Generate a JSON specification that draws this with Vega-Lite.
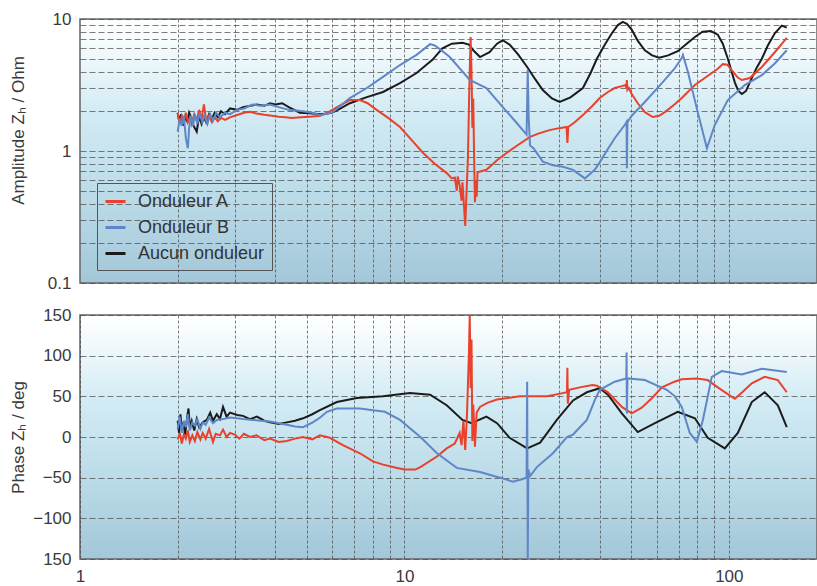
{
  "$schema": "https://vega.github.io/schema/vega-lite/v6.json",
  "autosize": {"type": "pad"},
  "padding": {"left": 8, "top": 9, "right": 0, "bottom": 0},
  "background": "white",
  "spacing": 13,
  "config": {
    "font": "Liberation Sans",
    "view": {
      "stroke": "#666666",
      "strokeWidth": 1.5,
      "fill": {
        "gradient": "linear", "x1": 0, "y1": 0, "x2": 0, "y2": 1,
        "stops": [
          {"offset": 0, "color": "#ffffff"},
          {"offset": 0.12, "color": "#f1f9fc"},
          {"offset": 0.35, "color": "#d3ebf4"},
          {"offset": 0.6, "color": "#c0dfeb"},
          {"offset": 1, "color": "#a3c7d9"}
        ]
      }
    },
    "axis": {
      "labelFont": "Liberation Sans",
      "labelFontSize": 17,
      "labelColor": "#3a3a3a",
      "titleFont": "Liberation Sans",
      "titleFontSize": 17,
      "titleFontWeight": "normal",
      "titleColor": "#3a3a3a",
      "gridColor": "#4a4a4a",
      "gridWidth": 0.8,
      "gridOpacity": 0.9,
      "domain": false,
      "ticks": false,
      "labelOverlap": false,
      "labelFlush": false
    },
    "legend": {
      "labelFont": "Liberation Sans",
      "labelFontSize": 18,
      "labelColor": "#333333"
    }
  },
  "resolve": {"legend": {"color": "independent"}},
  "vconcat": [
    {
      "width": 737,
      "height": 264,
      "data": {"name": "amp"},
      "mark": {"type": "line", "strokeWidth": 2, "clip": true},
      "encoding": {
        "x": {
          "field": "f", "type": "quantitative",
          "scale": {"type": "log", "domain": [1, 187], "nice": false},
          "axis": {"values": [2,3,4,5,6,7,8,9,10,20,30,40,50,60,70,80,90,100], "labels": false, "grid": true, "gridDash": [3,2], "title": null}
        },
        "y": {
          "field": "v", "type": "quantitative",
          "scale": {"type": "log", "domain": [0.1, 10], "nice": false},
          "axis": {
            "values": [0.1,0.2,0.3,0.4,0.5,0.6,0.7,0.8,0.9,1,2,3,4,5,6,7,8,9,10],
            "labelExpr": "datum.value == 0.1 ? '0.1' : datum.value == 1 ? '1' : datum.value == 10 ? '10' : ''",
            "labelPadding": 9,
            "gridDash": [6,3],
            "title": "Amplitude Zₕ / Ohm",
            "titleX": -53,
            "titleY": 111,
            "titleBaseline": "bottom"
          }
        },
        "color": {
          "field": "s", "type": "nominal",
          "scale": {"domain": ["Onduleur A", "Onduleur B", "Aucun onduleur"], "range": ["#e8412c", "#5f86c6", "#1b1b1b"]},
          "legend": {
            "title": null, "orient": "none", "legendX": 17, "legendY": 164,
            "symbolType": "stroke", "symbolSize": 400, "symbolStrokeWidth": 3,
            "strokeColor": "#555555", "padding": 7, "rowPadding": 5, "labelOffset": 11
          }
        }
      }
    },
    {
      "width": 737,
      "height": 244,
      "data": {"name": "phase"},
      "mark": {"type": "line", "strokeWidth": 2, "clip": true},
      "encoding": {
        "x": {
          "field": "f", "type": "quantitative",
          "scale": {"type": "log", "domain": [1, 187], "nice": false},
          "axis": {
            "values": [1,2,3,4,5,6,7,8,9,10,20,30,40,50,60,70,80,90,100],
            "labelExpr": "datum.value == 1 ? '1' : datum.value == 10 ? '10' : datum.value == 100 ? '100' : ''",
            "labelPadding": 9,
            "grid": true, "gridDash": [3,2], "title": null
          }
        },
        "y": {
          "field": "v", "type": "quantitative",
          "scale": {"domain": [-150, 150], "nice": false},
          "axis": {
            "values": [-150,-100,-50,0,50,100,150],
            "labelExpr": "datum.value == -150 ? '150' : datum.label",
            "labelPadding": 9,
            "gridDash": [6,3],
            "title": "Phase Zₕ / deg",
            "titleX": -53,
            "titleY": 122,
            "titleBaseline": "bottom"
          }
        },
        "color": {
          "field": "s", "type": "nominal",
          "scale": {"domain": ["Onduleur A", "Onduleur B", "Aucun onduleur"], "range": ["#e8412c", "#5f86c6", "#1b1b1b"]},
          "legend": null
        }
      }
    }
  ],
  "datasets": {
    "amp": [
      {"s":"Aucun onduleur","f":2.00,"v":1.95},{"s":"Aucun onduleur","f":2.02,"v":1.70},{"s":"Aucun onduleur","f":2.05,"v":1.90},{"s":"Aucun onduleur","f":2.08,"v":1.55},{"s":"Aucun onduleur","f":2.11,"v":1.85},{"s":"Aucun onduleur","f":2.14,"v":1.65},{"s":"Aucun onduleur","f":2.17,"v":1.95},{"s":"Aucun onduleur","f":2.20,"v":1.80},{"s":"Aucun onduleur","f":2.24,"v":1.55},{"s":"Aucun onduleur","f":2.29,"v":1.40},{"s":"Aucun onduleur","f":2.33,"v":1.85},{"s":"Aucun onduleur","f":2.37,"v":1.60},{"s":"Aucun onduleur","f":2.41,"v":1.80},{"s":"Aucun onduleur","f":2.45,"v":1.65},{"s":"Aucun onduleur","f":2.50,"v":1.90},{"s":"Aucun onduleur","f":2.55,"v":1.75},{"s":"Aucun onduleur","f":2.60,"v":1.95},{"s":"Aucun onduleur","f":2.66,"v":1.80},{"s":"Aucun onduleur","f":2.72,"v":2.00},{"s":"Aucun onduleur","f":2.80,"v":1.90},{"s":"Aucun onduleur","f":2.90,"v":2.10},{"s":"Aucun onduleur","f":3.05,"v":2.05},{"s":"Aucun onduleur","f":3.18,"v":2.15},{"s":"Aucun onduleur","f":3.35,"v":2.20},{"s":"Aucun onduleur","f":3.50,"v":2.25},{"s":"Aucun onduleur","f":3.70,"v":2.20},{"s":"Aucun onduleur","f":3.85,"v":2.30},{"s":"Aucun onduleur","f":4.00,"v":2.25},{"s":"Aucun onduleur","f":4.20,"v":2.30},{"s":"Aucun onduleur","f":4.40,"v":2.15},{"s":"Aucun onduleur","f":4.76,"v":1.95},{"s":"Aucun onduleur","f":5.11,"v":1.93},{"s":"Aucun onduleur","f":5.50,"v":1.90},{"s":"Aucun onduleur","f":5.80,"v":1.92},{"s":"Aucun onduleur","f":6.02,"v":1.96},{"s":"Aucun onduleur","f":6.40,"v":2.12},{"s":"Aucun onduleur","f":6.79,"v":2.30},{"s":"Aucun onduleur","f":7.66,"v":2.56},{"s":"Aucun onduleur","f":8.59,"v":2.80},{"s":"Aucun onduleur","f":9.69,"v":3.27},{"s":"Aucun onduleur","f":10.9,"v":3.9},{"s":"Aucun onduleur","f":12.2,"v":4.9},{"s":"Aucun onduleur","f":13.1,"v":6.0},{"s":"Aucun onduleur","f":14.0,"v":6.5},{"s":"Aucun onduleur","f":15.1,"v":6.6},{"s":"Aucun onduleur","f":15.8,"v":6.4},{"s":"Aucun onduleur","f":16.3,"v":5.8},{"s":"Aucun onduleur","f":17.1,"v":5.15},{"s":"Aucun onduleur","f":18.3,"v":5.6},{"s":"Aucun onduleur","f":19.3,"v":6.5},{"s":"Aucun onduleur","f":20.1,"v":6.9},{"s":"Aucun onduleur","f":21.1,"v":6.4},{"s":"Aucun onduleur","f":22.4,"v":5.4},{"s":"Aucun onduleur","f":23.9,"v":4.33},{"s":"Aucun onduleur","f":25.3,"v":3.5},{"s":"Aucun onduleur","f":26.7,"v":2.9},{"s":"Aucun onduleur","f":28.5,"v":2.5},{"s":"Aucun onduleur","f":30.1,"v":2.35},{"s":"Aucun onduleur","f":32.5,"v":2.55},{"s":"Aucun onduleur","f":35.5,"v":3.0},{"s":"Aucun onduleur","f":37.5,"v":3.9},{"s":"Aucun onduleur","f":39.2,"v":5.0},{"s":"Aucun onduleur","f":41.5,"v":6.4},{"s":"Aucun onduleur","f":43.6,"v":7.8},{"s":"Aucun onduleur","f":45.5,"v":9.0},{"s":"Aucun onduleur","f":47.1,"v":9.5},{"s":"Aucun onduleur","f":48.5,"v":9.2},{"s":"Aucun onduleur","f":50.2,"v":8.3},{"s":"Aucun onduleur","f":52.5,"v":6.8},{"s":"Aucun onduleur","f":55.1,"v":5.8},{"s":"Aucun onduleur","f":58.0,"v":5.3},{"s":"Aucun onduleur","f":61.0,"v":5.1},{"s":"Aucun onduleur","f":65.0,"v":5.3},{"s":"Aucun onduleur","f":69.6,"v":5.7},{"s":"Aucun onduleur","f":74.8,"v":6.6},{"s":"Aucun onduleur","f":78.6,"v":7.3},{"s":"Aucun onduleur","f":83.0,"v":8.0},{"s":"Aucun onduleur","f":88.0,"v":8.1},{"s":"Aucun onduleur","f":92.5,"v":7.6},{"s":"Aucun onduleur","f":95.8,"v":6.5},{"s":"Aucun onduleur","f":99.3,"v":5.0},{"s":"Aucun onduleur","f":102,"v":4.0},{"s":"Aucun onduleur","f":104.4,"v":3.3},{"s":"Aucun onduleur","f":107,"v":2.85},{"s":"Aucun onduleur","f":109.7,"v":2.7},{"s":"Aucun onduleur","f":113,"v":2.85},{"s":"Aucun onduleur","f":117.7,"v":3.57},{"s":"Aucun onduleur","f":122,"v":4.3},{"s":"Aucun onduleur","f":126.4,"v":5.0},{"s":"Aucun onduleur","f":131.9,"v":6.3},{"s":"Aucun onduleur","f":138.6,"v":7.8},{"s":"Aucun onduleur","f":145.6,"v":8.9},{"s":"Aucun onduleur","f":150.9,"v":8.6},

      {"s":"Onduleur A","f":2.00,"v":1.95},{"s":"Onduleur A","f":2.03,"v":1.60},{"s":"Onduleur A","f":2.06,"v":1.85},{"s":"Onduleur A","f":2.09,"v":1.70},{"s":"Onduleur A","f":2.12,"v":1.95},{"s":"Onduleur A","f":2.15,"v":1.65},{"s":"Onduleur A","f":2.18,"v":1.80},{"s":"Onduleur A","f":2.21,"v":1.60},{"s":"Onduleur A","f":2.25,"v":1.90},{"s":"Onduleur A","f":2.29,"v":1.70},{"s":"Onduleur A","f":2.33,"v":2.05},{"s":"Onduleur A","f":2.37,"v":1.75},{"s":"Onduleur A","f":2.41,"v":2.25},{"s":"Onduleur A","f":2.45,"v":1.70},{"s":"Onduleur A","f":2.50,"v":1.85},{"s":"Onduleur A","f":2.55,"v":1.65},{"s":"Onduleur A","f":2.60,"v":1.80},{"s":"Onduleur A","f":2.66,"v":1.68},{"s":"Onduleur A","f":2.72,"v":1.78},{"s":"Onduleur A","f":2.80,"v":1.72},{"s":"Onduleur A","f":2.90,"v":1.80},{"s":"Onduleur A","f":3.00,"v":1.85},{"s":"Onduleur A","f":3.10,"v":1.90},{"s":"Onduleur A","f":3.20,"v":1.95},{"s":"Onduleur A","f":3.35,"v":1.98},{"s":"Onduleur A","f":3.50,"v":1.92},{"s":"Onduleur A","f":3.70,"v":1.88},{"s":"Onduleur A","f":3.90,"v":1.85},{"s":"Onduleur A","f":4.10,"v":1.82},{"s":"Onduleur A","f":4.30,"v":1.80},{"s":"Onduleur A","f":4.50,"v":1.78},{"s":"Onduleur A","f":4.80,"v":1.80},{"s":"Onduleur A","f":5.10,"v":1.82},{"s":"Onduleur A","f":5.50,"v":1.85},{"s":"Onduleur A","f":5.80,"v":1.95},{"s":"Onduleur A","f":6.20,"v":2.15},{"s":"Onduleur A","f":6.79,"v":2.43},{"s":"Onduleur A","f":7.29,"v":2.43},{"s":"Onduleur A","f":7.70,"v":2.30},{"s":"Onduleur A","f":8.23,"v":2.04},{"s":"Onduleur A","f":9.0,"v":1.75},{"s":"Onduleur A","f":9.69,"v":1.52},{"s":"Onduleur A","f":10.5,"v":1.22},{"s":"Onduleur A","f":11.4,"v":0.97},{"s":"Onduleur A","f":12.4,"v":0.8},{"s":"Onduleur A","f":13.5,"v":0.68},{"s":"Onduleur A","f":14.0,"v":0.62},{"s":"Onduleur A","f":14.3,"v":0.63},{"s":"Onduleur A","f":14.5,"v":0.5},{"s":"Onduleur A","f":14.6,"v":0.64},{"s":"Onduleur A","f":14.8,"v":0.55},{"s":"Onduleur A","f":15.0,"v":0.42},{"s":"Onduleur A","f":15.1,"v":0.58},{"s":"Onduleur A","f":15.3,"v":0.35},{"s":"Onduleur A","f":15.4,"v":0.27},{"s":"Onduleur A","f":15.55,"v":0.5},{"s":"Onduleur A","f":15.7,"v":0.9},{"s":"Onduleur A","f":15.85,"v":3.0},{"s":"Onduleur A","f":16.0,"v":7.3},{"s":"Onduleur A","f":16.1,"v":4.0},{"s":"Onduleur A","f":16.2,"v":1.5},{"s":"Onduleur A","f":16.3,"v":2.5},{"s":"Onduleur A","f":16.4,"v":0.9},{"s":"Onduleur A","f":16.5,"v":0.41},{"s":"Onduleur A","f":16.6,"v":0.6},{"s":"Onduleur A","f":16.7,"v":0.45},{"s":"Onduleur A","f":16.8,"v":0.69},{"s":"Onduleur A","f":17.9,"v":0.72},{"s":"Onduleur A","f":19.3,"v":0.85},{"s":"Onduleur A","f":20.7,"v":0.97},{"s":"Onduleur A","f":22.5,"v":1.12},{"s":"Onduleur A","f":24.4,"v":1.28},{"s":"Onduleur A","f":26.0,"v":1.36},{"s":"Onduleur A","f":28.0,"v":1.44},{"s":"Onduleur A","f":30.0,"v":1.49},{"s":"Onduleur A","f":31.6,"v":1.52},{"s":"Onduleur A","f":31.8,"v":1.15},{"s":"Onduleur A","f":32.0,"v":1.52},{"s":"Onduleur A","f":33.5,"v":1.65},{"s":"Onduleur A","f":35.5,"v":1.87},{"s":"Onduleur A","f":38.0,"v":2.2},{"s":"Onduleur A","f":40.0,"v":2.52},{"s":"Onduleur A","f":42.4,"v":2.8},{"s":"Onduleur A","f":44.5,"v":3.0},{"s":"Onduleur A","f":46.8,"v":3.1},{"s":"Onduleur A","f":48.0,"v":3.16},{"s":"Onduleur A","f":48.3,"v":3.0},{"s":"Onduleur A","f":48.5,"v":3.45},{"s":"Onduleur A","f":48.7,"v":2.9},{"s":"Onduleur A","f":49.2,"v":3.0},{"s":"Onduleur A","f":50.2,"v":2.7},{"s":"Onduleur A","f":52.4,"v":2.3},{"s":"Onduleur A","f":55.1,"v":1.97},{"s":"Onduleur A","f":58.3,"v":1.81},{"s":"Onduleur A","f":61.0,"v":1.85},{"s":"Onduleur A","f":63.5,"v":1.97},{"s":"Onduleur A","f":68.0,"v":2.25},{"s":"Onduleur A","f":71.6,"v":2.52},{"s":"Onduleur A","f":78.6,"v":3.16},{"s":"Onduleur A","f":86.0,"v":3.7},{"s":"Onduleur A","f":92.5,"v":4.2},{"s":"Onduleur A","f":95.8,"v":4.55},{"s":"Onduleur A","f":99.0,"v":4.5},{"s":"Onduleur A","f":102.1,"v":4.1},{"s":"Onduleur A","f":106.6,"v":3.6},{"s":"Onduleur A","f":109.7,"v":3.45},{"s":"Onduleur A","f":116.1,"v":3.57},{"s":"Onduleur A","f":126.4,"v":4.33},{"s":"Onduleur A","f":138.6,"v":5.6},{"s":"Onduleur A","f":150.9,"v":7.2},

      {"s":"Onduleur B","f":2.00,"v":1.40},{"s":"Onduleur B","f":2.03,"v":1.75},{"s":"Onduleur B","f":2.06,"v":1.55},{"s":"Onduleur B","f":2.09,"v":1.85},{"s":"Onduleur B","f":2.12,"v":1.25},{"s":"Onduleur B","f":2.15,"v":1.05},{"s":"Onduleur B","f":2.17,"v":1.50},{"s":"Onduleur B","f":2.20,"v":1.85},{"s":"Onduleur B","f":2.23,"v":1.55},{"s":"Onduleur B","f":2.26,"v":1.90},{"s":"Onduleur B","f":2.30,"v":1.60},{"s":"Onduleur B","f":2.34,"v":1.95},{"s":"Onduleur B","f":2.38,"v":1.65},{"s":"Onduleur B","f":2.42,"v":1.85},{"s":"Onduleur B","f":2.47,"v":1.60},{"s":"Onduleur B","f":2.52,"v":1.90},{"s":"Onduleur B","f":2.57,"v":1.70},{"s":"Onduleur B","f":2.63,"v":1.95},{"s":"Onduleur B","f":2.70,"v":1.80},{"s":"Onduleur B","f":2.80,"v":1.95},{"s":"Onduleur B","f":2.90,"v":1.90},{"s":"Onduleur B","f":3.05,"v":2.05},{"s":"Onduleur B","f":3.20,"v":2.10},{"s":"Onduleur B","f":3.40,"v":2.25},{"s":"Onduleur B","f":3.60,"v":2.20},{"s":"Onduleur B","f":3.85,"v":2.25},{"s":"Onduleur B","f":4.10,"v":2.15},{"s":"Onduleur B","f":4.40,"v":2.05},{"s":"Onduleur B","f":4.87,"v":2.0},{"s":"Onduleur B","f":5.20,"v":1.95},{"s":"Onduleur B","f":5.50,"v":1.87},{"s":"Onduleur B","f":5.80,"v":1.92},{"s":"Onduleur B","f":6.02,"v":1.97},{"s":"Onduleur B","f":6.79,"v":2.52},{"s":"Onduleur B","f":7.66,"v":3.0},{"s":"Onduleur B","f":8.59,"v":3.64},{"s":"Onduleur B","f":9.69,"v":4.48},{"s":"Onduleur B","f":10.9,"v":5.35},{"s":"Onduleur B","f":12.0,"v":6.45},{"s":"Onduleur B","f":12.4,"v":6.3},{"s":"Onduleur B","f":13.0,"v":5.8},{"s":"Onduleur B","f":13.8,"v":5.15},{"s":"Onduleur B","f":15.9,"v":3.45},{"s":"Onduleur B","f":17.9,"v":3.0},{"s":"Onduleur B","f":20.1,"v":2.15},{"s":"Onduleur B","f":22.2,"v":1.63},{"s":"Onduleur B","f":23.8,"v":1.33},{"s":"Onduleur B","f":24.0,"v":4.1},{"s":"Onduleur B","f":24.15,"v":1.8},{"s":"Onduleur B","f":24.4,"v":1.1},{"s":"Onduleur B","f":25.0,"v":1.05},{"s":"Onduleur B","f":26.7,"v":0.83},{"s":"Onduleur B","f":28.7,"v":0.78},{"s":"Onduleur B","f":30.8,"v":0.76},{"s":"Onduleur B","f":33.1,"v":0.72},{"s":"Onduleur B","f":36.0,"v":0.62},{"s":"Onduleur B","f":38.6,"v":0.72},{"s":"Onduleur B","f":40.0,"v":0.82},{"s":"Onduleur B","f":42.0,"v":1.0},{"s":"Onduleur B","f":44.5,"v":1.25},{"s":"Onduleur B","f":48.0,"v":1.6},{"s":"Onduleur B","f":48.4,"v":1.66},{"s":"Onduleur B","f":48.5,"v":0.74},{"s":"Onduleur B","f":48.7,"v":1.65},{"s":"Onduleur B","f":50.2,"v":1.85},{"s":"Onduleur B","f":55.1,"v":2.35},{"s":"Onduleur B","f":62.2,"v":3.27},{"s":"Onduleur B","f":68.0,"v":4.2},{"s":"Onduleur B","f":71.6,"v":5.06},{"s":"Onduleur B","f":72.2,"v":5.35},{"s":"Onduleur B","f":74.8,"v":3.97},{"s":"Onduleur B","f":80.2,"v":1.97},{"s":"Onduleur B","f":85.6,"v":1.05},{"s":"Onduleur B","f":90.5,"v":1.57},{"s":"Onduleur B","f":99.3,"v":2.43},{"s":"Onduleur B","f":112,"v":3.16},{"s":"Onduleur B","f":126.4,"v":3.76},{"s":"Onduleur B","f":138.6,"v":4.6},{"s":"Onduleur B","f":150.9,"v":5.8}
    ],
    "phase": [
      {"s":"Aucun onduleur","f":2.00,"v":20},{"s":"Aucun onduleur","f":2.02,"v":5},{"s":"Aucun onduleur","f":2.04,"v":28},{"s":"Aucun onduleur","f":2.06,"v":9},{"s":"Aucun onduleur","f":2.08,"v":18},{"s":"Aucun onduleur","f":2.11,"v":3},{"s":"Aucun onduleur","f":2.14,"v":25},{"s":"Aucun onduleur","f":2.16,"v":35},{"s":"Aucun onduleur","f":2.18,"v":12},{"s":"Aucun onduleur","f":2.21,"v":20},{"s":"Aucun onduleur","f":2.25,"v":8},{"s":"Aucun onduleur","f":2.29,"v":22},{"s":"Aucun onduleur","f":2.33,"v":12},{"s":"Aucun onduleur","f":2.39,"v":18},{"s":"Aucun onduleur","f":2.46,"v":21},{"s":"Aucun onduleur","f":2.52,"v":30},{"s":"Aucun onduleur","f":2.57,"v":20},{"s":"Aucun onduleur","f":2.64,"v":28},{"s":"Aucun onduleur","f":2.70,"v":22},{"s":"Aucun onduleur","f":2.76,"v":37},{"s":"Aucun onduleur","f":2.83,"v":25},{"s":"Aucun onduleur","f":2.90,"v":30},{"s":"Aucun onduleur","f":3.05,"v":27},{"s":"Aucun onduleur","f":3.18,"v":26},{"s":"Aucun onduleur","f":3.34,"v":22},{"s":"Aucun onduleur","f":3.51,"v":25},{"s":"Aucun onduleur","f":3.70,"v":20},{"s":"Aucun onduleur","f":3.85,"v":18},{"s":"Aucun onduleur","f":4.10,"v":16},{"s":"Aucun onduleur","f":4.34,"v":18},{"s":"Aucun onduleur","f":4.60,"v":20},{"s":"Aucun onduleur","f":4.87,"v":23},{"s":"Aucun onduleur","f":5.20,"v":28},{"s":"Aucun onduleur","f":5.49,"v":33},{"s":"Aucun onduleur","f":6.19,"v":43},{"s":"Aucun onduleur","f":7.14,"v":48},{"s":"Aucun onduleur","f":8.59,"v":50},{"s":"Aucun onduleur","f":10.4,"v":54},{"s":"Aucun onduleur","f":12.0,"v":52},{"s":"Aucun onduleur","f":13.5,"v":39},{"s":"Aucun onduleur","f":15.1,"v":21},{"s":"Aucun onduleur","f":16.1,"v":17},{"s":"Aucun onduleur","f":17.9,"v":25},{"s":"Aucun onduleur","f":19.3,"v":17},{"s":"Aucun onduleur","f":21.1,"v":-1},{"s":"Aucun onduleur","f":23.9,"v":-14},{"s":"Aucun onduleur","f":26.2,"v":-7},{"s":"Aucun onduleur","f":29.5,"v":21},{"s":"Aucun onduleur","f":33.1,"v":45},{"s":"Aucun onduleur","f":36.5,"v":55},{"s":"Aucun onduleur","f":40.0,"v":60},{"s":"Aucun onduleur","f":42.4,"v":52},{"s":"Aucun onduleur","f":46.8,"v":29},{"s":"Aucun onduleur","f":52.4,"v":6},{"s":"Aucun onduleur","f":59.2,"v":17},{"s":"Aucun onduleur","f":69.6,"v":31},{"s":"Aucun onduleur","f":78.6,"v":23},{"s":"Aucun onduleur","f":86.1,"v":-1},{"s":"Aucun onduleur","f":97.2,"v":-14},{"s":"Aucun onduleur","f":106.6,"v":5},{"s":"Aucun onduleur","f":117.7,"v":43},{"s":"Aucun onduleur","f":129.1,"v":55},{"s":"Aucun onduleur","f":141.6,"v":39},{"s":"Aucun onduleur","f":150.9,"v":12},

      {"s":"Onduleur A","f":2.00,"v":-3},{"s":"Onduleur A","f":2.03,"v":5},{"s":"Onduleur A","f":2.06,"v":-8},{"s":"Onduleur A","f":2.09,"v":3},{"s":"Onduleur A","f":2.12,"v":-2},{"s":"Onduleur A","f":2.15,"v":8},{"s":"Onduleur A","f":2.18,"v":-6},{"s":"Onduleur A","f":2.22,"v":2},{"s":"Onduleur A","f":2.26,"v":-5},{"s":"Onduleur A","f":2.30,"v":6},{"s":"Onduleur A","f":2.35,"v":-3},{"s":"Onduleur A","f":2.39,"v":5},{"s":"Onduleur A","f":2.44,"v":-2},{"s":"Onduleur A","f":2.50,"v":10},{"s":"Onduleur A","f":2.57,"v":-6},{"s":"Onduleur A","f":2.62,"v":4},{"s":"Onduleur A","f":2.70,"v":2},{"s":"Onduleur A","f":2.76,"v":9},{"s":"Onduleur A","f":2.83,"v":0},{"s":"Onduleur A","f":2.90,"v":5},{"s":"Onduleur A","f":3.00,"v":3},{"s":"Onduleur A","f":3.10,"v":-2},{"s":"Onduleur A","f":3.20,"v":4},{"s":"Onduleur A","f":3.34,"v":0},{"s":"Onduleur A","f":3.50,"v":2},{"s":"Onduleur A","f":3.70,"v":-4},{"s":"Onduleur A","f":3.85,"v":-2},{"s":"Onduleur A","f":4.10,"v":-6},{"s":"Onduleur A","f":4.34,"v":-5},{"s":"Onduleur A","f":4.60,"v":-2},{"s":"Onduleur A","f":4.87,"v":0},{"s":"Onduleur A","f":5.20,"v":-3},{"s":"Onduleur A","f":5.49,"v":2},{"s":"Onduleur A","f":5.89,"v":-1},{"s":"Onduleur A","f":6.46,"v":-10},{"s":"Onduleur A","f":7.29,"v":-20},{"s":"Onduleur A","f":8.0,"v":-30},{"s":"Onduleur A","f":8.6,"v":-34},{"s":"Onduleur A","f":9.5,"v":-38},{"s":"Onduleur A","f":10.0,"v":-40},{"s":"Onduleur A","f":10.8,"v":-40},{"s":"Onduleur A","f":11.2,"v":-37},{"s":"Onduleur A","f":12.6,"v":-24},{"s":"Onduleur A","f":13.5,"v":-14},{"s":"Onduleur A","f":14.3,"v":-8},{"s":"Onduleur A","f":14.8,"v":5},{"s":"Onduleur A","f":15.0,"v":-10},{"s":"Onduleur A","f":15.2,"v":20},{"s":"Onduleur A","f":15.4,"v":-16},{"s":"Onduleur A","f":15.6,"v":30},{"s":"Onduleur A","f":15.8,"v":100},{"s":"Onduleur A","f":15.9,"v":150},{"s":"Onduleur A","f":16.0,"v":60},{"s":"Onduleur A","f":16.1,"v":120},{"s":"Onduleur A","f":16.2,"v":-5},{"s":"Onduleur A","f":16.3,"v":40},{"s":"Onduleur A","f":16.5,"v":-12},{"s":"Onduleur A","f":16.7,"v":30},{"s":"Onduleur A","f":17.1,"v":37},{"s":"Onduleur A","f":18.0,"v":42},{"s":"Onduleur A","f":19.3,"v":46},{"s":"Onduleur A","f":22.7,"v":50},{"s":"Onduleur A","f":27.5,"v":50},{"s":"Onduleur A","f":30.0,"v":53},{"s":"Onduleur A","f":31.7,"v":55},{"s":"Onduleur A","f":31.8,"v":85},{"s":"Onduleur A","f":31.9,"v":41},{"s":"Onduleur A","f":32.2,"v":58},{"s":"Onduleur A","f":34.7,"v":61},{"s":"Onduleur A","f":38.0,"v":64},{"s":"Onduleur A","f":39.2,"v":63},{"s":"Onduleur A","f":40.0,"v":61},{"s":"Onduleur A","f":42.4,"v":55},{"s":"Onduleur A","f":46.8,"v":37},{"s":"Onduleur A","f":50.2,"v":29},{"s":"Onduleur A","f":53.9,"v":36},{"s":"Onduleur A","f":58.0,"v":48},{"s":"Onduleur A","f":62.2,"v":61},{"s":"Onduleur A","f":68.0,"v":68},{"s":"Onduleur A","f":71.6,"v":71},{"s":"Onduleur A","f":79.7,"v":72},{"s":"Onduleur A","f":86.0,"v":70},{"s":"Onduleur A","f":92.5,"v":61},{"s":"Onduleur A","f":99.0,"v":53},{"s":"Onduleur A","f":104.4,"v":47},{"s":"Onduleur A","f":110,"v":55},{"s":"Onduleur A","f":117.7,"v":66},{"s":"Onduleur A","f":129.0,"v":74},{"s":"Onduleur A","f":141.6,"v":70},{"s":"Onduleur A","f":150.9,"v":55},

      {"s":"Onduleur B","f":2.00,"v":10},{"s":"Onduleur B","f":2.03,"v":25},{"s":"Onduleur B","f":2.06,"v":5},{"s":"Onduleur B","f":2.09,"v":20},{"s":"Onduleur B","f":2.12,"v":12},{"s":"Onduleur B","f":2.15,"v":28},{"s":"Onduleur B","f":2.18,"v":8},{"s":"Onduleur B","f":2.22,"v":18},{"s":"Onduleur B","f":2.26,"v":14},{"s":"Onduleur B","f":2.30,"v":22},{"s":"Onduleur B","f":2.35,"v":10},{"s":"Onduleur B","f":2.39,"v":18},{"s":"Onduleur B","f":2.44,"v":15},{"s":"Onduleur B","f":2.50,"v":24},{"s":"Onduleur B","f":2.57,"v":17},{"s":"Onduleur B","f":2.64,"v":21},{"s":"Onduleur B","f":2.76,"v":22},{"s":"Onduleur B","f":2.90,"v":24},{"s":"Onduleur B","f":3.05,"v":23},{"s":"Onduleur B","f":3.18,"v":22},{"s":"Onduleur B","f":3.41,"v":21},{"s":"Onduleur B","f":3.60,"v":20},{"s":"Onduleur B","f":3.85,"v":19},{"s":"Onduleur B","f":4.10,"v":17},{"s":"Onduleur B","f":4.34,"v":15},{"s":"Onduleur B","f":4.60,"v":13},{"s":"Onduleur B","f":4.87,"v":12},{"s":"Onduleur B","f":5.22,"v":18},{"s":"Onduleur B","f":5.50,"v":24},{"s":"Onduleur B","f":5.77,"v":31},{"s":"Onduleur B","f":6.19,"v":35},{"s":"Onduleur B","f":7.29,"v":35},{"s":"Onduleur B","f":8.0,"v":33},{"s":"Onduleur B","f":8.71,"v":31},{"s":"Onduleur B","f":9.69,"v":21},{"s":"Onduleur B","f":11.2,"v":0},{"s":"Onduleur B","f":12.6,"v":-20},{"s":"Onduleur B","f":14.5,"v":-38},{"s":"Onduleur B","f":17.1,"v":-43},{"s":"Onduleur B","f":19.7,"v":-50},{"s":"Onduleur B","f":21.6,"v":-55},{"s":"Onduleur B","f":23.0,"v":-52},{"s":"Onduleur B","f":23.8,"v":-50},{"s":"Onduleur B","f":23.9,"v":68},{"s":"Onduleur B","f":24.0,"v":-149},{"s":"Onduleur B","f":24.1,"v":-40},{"s":"Onduleur B","f":24.4,"v":-48},{"s":"Onduleur B","f":25.6,"v":-37},{"s":"Onduleur B","f":28.7,"v":-20},{"s":"Onduleur B","f":31.7,"v":0},{"s":"Onduleur B","f":33.1,"v":3},{"s":"Onduleur B","f":36.5,"v":21},{"s":"Onduleur B","f":38.6,"v":45},{"s":"Onduleur B","f":40.0,"v":58},{"s":"Onduleur B","f":44.5,"v":68},{"s":"Onduleur B","f":48.3,"v":72},{"s":"Onduleur B","f":48.4,"v":104},{"s":"Onduleur B","f":48.5,"v":29},{"s":"Onduleur B","f":48.7,"v":72},{"s":"Onduleur B","f":55.1,"v":70},{"s":"Onduleur B","f":64.4,"v":58},{"s":"Onduleur B","f":68.2,"v":50},{"s":"Onduleur B","f":71.6,"v":37},{"s":"Onduleur B","f":75.8,"v":5},{"s":"Onduleur B","f":79.7,"v":-6},{"s":"Onduleur B","f":83.2,"v":21},{"s":"Onduleur B","f":88.6,"v":74},{"s":"Onduleur B","f":95.1,"v":81},{"s":"Onduleur B","f":109.7,"v":77},{"s":"Onduleur B","f":126.4,"v":84},{"s":"Onduleur B","f":150.9,"v":80}
    ]
  }
}
